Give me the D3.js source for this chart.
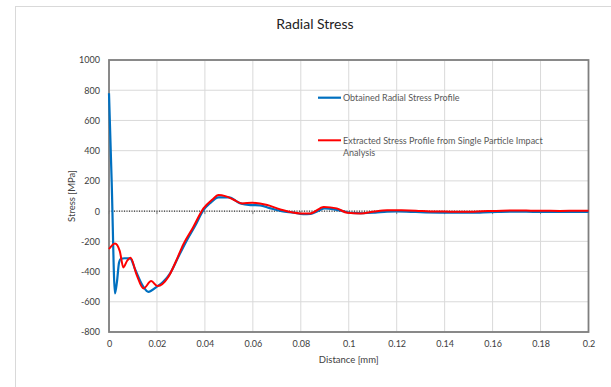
<!DOCTYPE html>
<html><head><meta charset="utf-8">
<script src="https://cdn.jsdelivr.net/npm/d3@7"></script>
<style>
html,body{margin:0;padding:0;background:#fff;}
text{font-family:Lato,"Open Sans",sans-serif;}
</style></head>
<body>
<svg id="chart" width="611" height="387"></svg>
<script>
const title = "Radial Stress";
const xLabel = "Distance [mm]";
const yLabel = "Stress [MPa]";
const xTicks = [0,0.02,0.04,0.06,0.08,0.1,0.12,0.14,0.16,0.18,0.2];
const xTickLabels = ["0","0.02","0.04","0.06","0.08","0.1","0.12","0.14","0.16","0.18","0.2"];
const yTicks = [-800,-600,-400,-200,0,200,400,600,800,1000];
const yTickLabels = ["-800","-600","-400","-200","0","200","400","600","800","1000"];
const seriesNames = ["Obtained Radial Stress Profile","Extracted Stress Profile from Single Particle Impact Analysis"];

const blueX = [0,0.0011,0.0025,0.0033,0.0042,0.005,0.0065,0.0088,0.011,0.0143,0.0164,0.020,0.0225,0.0255,0.029,0.0325,0.036,0.0394,0.042,0.0457,0.050,0.0548,0.059,0.063,0.067,0.072,0.077,0.081,0.084,0.087,0.090,0.094,0.098,0.101,0.106,0.111,0.116,0.12,0.126,0.132,0.138,0.144,0.15,0.156,0.162,0.168,0.174,0.18,0.186,0.192,0.2];
const blueY = [780,205,-545,-470,-340,-315,-312,-313,-390,-500,-534,-500,-470,-412,-300,-192,-95,7,50,91,91,51,40,38,20,0,-10,-20,-18,0,18,12,-2,-12,-14,-10,-3,-2,-5,-8,-10,-11,-11,-9,-6,-4,-4,-5,-5,-6,-5];

const redX = [0,0.0025,0.0045,0.006,0.0075,0.009,0.0115,0.0144,0.0176,0.0202,0.0248,0.028,0.031,0.035,0.0394,0.043,0.0457,0.0485,0.052,0.0555,0.0597,0.066,0.0715,0.0798,0.084,0.0896,0.095,0.0994,0.105,0.11,0.116,0.122,0.128,0.134,0.14,0.146,0.152,0.158,0.164,0.17,0.176,0.182,0.188,0.194,0.2];
const redY = [-251,-214,-265,-373,-330,-309,-420,-512,-463,-496,-434,-330,-220,-110,18,75,106,99,75,51,55,40,11,-15,-15,28,18,-11,-15,-5,5,5,3,-2,-3,-5,-4,0,3,4,3,2,1,2,3];

const W = 611, H = 387;
const m = {left:109, right:22.5, top:60, bottom:55};
const svg = d3.select("#chart");

// outer chart border
svg.append("rect").attr("x",15.5).attr("y",6.5).attr("width",W).attr("height",H)
  .attr("fill","#fff").attr("stroke","#d9d9d9").attr("stroke-width",1);

const x = d3.scaleLinear().domain([0,0.2]).range([m.left, W-m.right]);
const y = d3.scaleLinear().domain([-800,1000]).range([H-m.bottom, m.top]);

// grid
svg.append("g").selectAll("line").data(yTicks).join("line")
  .attr("x1",x(0)).attr("x2",x(0.2)).attr("y1",d=>y(d)).attr("y2",d=>y(d))
  .attr("stroke","#d9d9d9").attr("stroke-width",1);
svg.append("g").selectAll("line").data(xTicks).join("line")
  .attr("y1",y(-800)).attr("y2",y(1000)).attr("x1",d=>x(d)).attr("x2",d=>x(d))
  .attr("stroke","#d9d9d9").attr("stroke-width",1);

// zero axis dotted
svg.append("line").attr("x1",x(0)).attr("x2",x(0.2)).attr("y1",y(0)).attr("y2",y(0))
  .attr("stroke","#000").attr("stroke-width",1).attr("stroke-dasharray","1,1.5");
// small ticks on zero axis
svg.append("g").selectAll("line").data(xTicks).join("line")
  .attr("x1",d=>x(d)).attr("x2",d=>x(d)).attr("y1",y(0)).attr("y2",y(0)+3)
  .attr("stroke","#7f7f7f").attr("stroke-width",1);

// plot border
svg.append("rect").attr("x",x(0)).attr("y",y(1000)).attr("width",x(0.2)-x(0)).attr("height",y(-800)-y(1000))
  .attr("fill","none").attr("stroke","#7f7f7f").attr("stroke-width",1.8);

// axes labels via d3 axes (no domain / tick lines)
const yAxis = d3.axisLeft(y).tickValues(yTicks).tickFormat((d,i)=>yTickLabels[i]).tickSize(0).tickPadding(9);
const gy = svg.append("g").attr("transform",`translate(${x(0)},0)`).call(yAxis);
gy.select(".domain").remove();
gy.selectAll("text").attr("font-size",9).attr("fill","#404040").style("font-family","Lato,sans-serif");

const xAxis = d3.axisBottom(x).tickValues(xTicks).tickFormat((d,i)=>xTickLabels[i]).tickSize(0).tickPadding(9);
const gx = svg.append("g").attr("transform",`translate(0,${y(-800)})`).call(xAxis);
gx.select(".domain").remove();
gx.selectAll("text").attr("font-size",9).attr("fill","#404040").style("font-family","Lato,sans-serif");

// series
const line = d3.line().curve(d3.curveMonotoneX).x(d=>x(d[0])).y(d=>y(d[1]));
const blue = blueX.map((v,i)=>[v,blueY[i]]);
const red = redX.map((v,i)=>[v,redY[i]]);
svg.append("path").datum(blue).attr("d",line).attr("fill","none").attr("stroke","#0070C0").attr("stroke-width",2.2);
svg.append("path").datum(red).attr("d",line).attr("fill","none").attr("stroke","#FF0000").attr("stroke-width",2);

// title and axis titles
svg.append("text").attr("x",315).attr("y",29).attr("text-anchor","middle")
  .attr("font-size",14).attr("fill","#222").text(title);
svg.append("text").attr("x",(x(0)+x(0.2))/2).attr("y",363).attr("text-anchor","middle")
  .attr("font-size",9.5).attr("fill","#404040").text(xLabel);
svg.append("text").attr("transform",`translate(75,${(y(1000)+y(-800))/2}) rotate(-90)`)
  .attr("text-anchor","middle").attr("font-size",9.5).attr("fill","#404040").text(yLabel);

// legend
const lg = svg.append("g");
lg.append("line").attr("x1",318).attr("x2",341).attr("y1",97.7).attr("y2",97.7).attr("stroke","#0070C0").attr("stroke-width",2.2);
lg.append("text").attr("x",343).attr("y",101).attr("font-size",9).attr("fill","#595959").text(seriesNames[0]);
lg.append("line").attr("x1",318).attr("x2",341).attr("y1",140.3).attr("y2",140.3).attr("stroke","#FF0000").attr("stroke-width",2);
const words = seriesNames[1].split(" ");
lg.append("text").attr("x",343).attr("y",143.5).attr("font-size",9).attr("fill","#595959").text(words.slice(0,7).join(" "));
lg.append("text").attr("x",343).attr("y",155.8).attr("font-size",9).attr("fill","#595959").text(words.slice(7).join(" "));
</script>
</body></html>
